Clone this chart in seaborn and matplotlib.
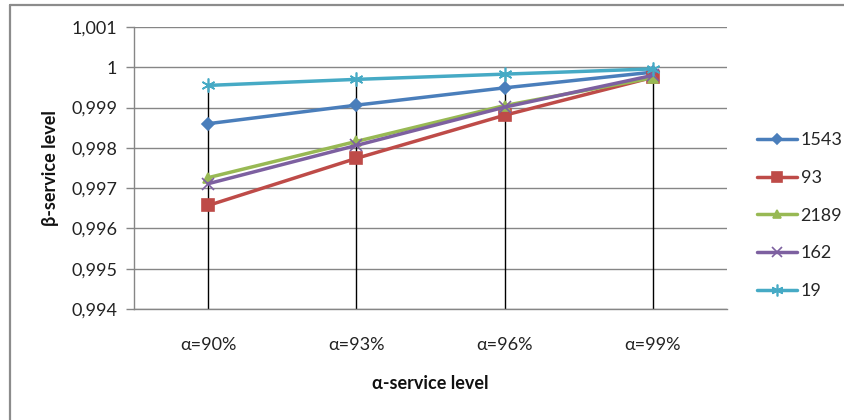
import numpy as np
import pandas as pd
import matplotlib
matplotlib.use("Agg")
import matplotlib.pyplot as plt
from matplotlib.lines import Line2D
import seaborn as sns

# α-service level categories and the β-service level reached for each item
levels = ["α=90%", "α=93%", "α=96%", "α=99%"]
series_names = ["1543", "93", "2189", "162", "19"]
beta_1543 = [0.99860, 0.99906, 0.99949, 0.99988]
beta_93 = [0.99657, 0.99774, 0.99881, 0.99975]
beta_2189 = [0.99726, 0.99816, 0.99905, 0.99974]
beta_162 = [0.99711, 0.99806, 0.99901, 0.99980]
beta_19 = [0.99955, 0.99970, 0.99983, 0.99996]
y_ticks = [0.994, 0.995, 0.996, 0.997, 0.998, 0.999, 1.000, 1.001]
y_tick_labels = ["0,994", "0,995", "0,996", "0,997", "0,998", "0,999", "1", "1,001"]

colors = {"1543": "#4A7EBB", "93": "#BE4B48", "2189": "#98B954",
          "162": "#7D60A0", "19": "#46AAC5"}
markers = {"1543": "D", "93": "s", "2189": "^", "162": "x", "19": (6, 2, 0)}
msizes = {"1543": 6, "93": 8, "2189": 7, "162": 8, "19": 10}

all_values = [beta_1543, beta_93, beta_2189, beta_162, beta_19]
df = pd.DataFrame({
    "level": levels * len(series_names),
    "beta": np.concatenate(all_values),
    "series": np.repeat(series_names, len(levels)),
})

sns.set_theme(style="white")
plt.rcParams["font.family"] = ["Lato", "DejaVu Sans"]

fig = plt.figure(figsize=(8.44, 4.20), dpi=100)
ax = fig.add_axes([134 / 844, 1 - 309 / 420, (727 - 134) / 844, (309 - 27) / 420])

# drop lines from the highest series down to the axis floor
tops = np.max(np.array(all_values), axis=0)
ax.vlines(np.arange(len(levels)), y_ticks[0], tops, color="black", lw=1.0, zorder=1)

for name, vals in zip(series_names, all_values):
    sub = df[df["series"] == name]
    sns.lineplot(data=sub, x="level", y="beta", ax=ax, color=colors[name],
                 marker=markers[name], markersize=msizes[name],
                 markeredgecolor=colors[name], markeredgewidth=1.2,
                 lw=2.5, legend=False, zorder=3)

ax.set_xlim(-0.5, len(levels) - 0.5)
ax.set_ylim(y_ticks[0], y_ticks[-1])
ax.set_yticks(y_ticks)
ax.set_yticklabels(y_tick_labels)
ax.set_xticks(range(len(levels)))
ax.set_xticklabels(levels)
ax.grid(axis="y", color="#868686", lw=1.0)
ax.set_axisbelow(True)
for side in ["top", "right"]:
    ax.spines[side].set_visible(False)
for side in ["left", "bottom"]:
    ax.spines[side].set_color("#868686")
    ax.spines[side].set_linewidth(1.0)
ax.tick_params(axis="y", length=6, width=1.0, color="#868686", labelsize=13,
               labelcolor="#222222", pad=6, left=True)
ax.tick_params(axis="x", length=0, labelsize=13, labelcolor="#222222", pad=20)

ax.set_xlabel("α-service level", fontsize=13, fontweight="bold", labelpad=16,
              color="#111111")
ax.set_ylabel("β-service level", fontsize=13, fontweight="bold", labelpad=9,
              color="#111111")

handles = [Line2D([], [], color=colors[n], lw=2.5, marker=markers[n],
                  markersize=msizes[n] * 0.85, markeredgecolor=colors[n],
                  markeredgewidth=1.2) for n in series_names]
fig.legend(handles, series_names, loc="upper left",
           bbox_to_anchor=(750 / 844, 1 - 125 / 420), frameon=False,
           fontsize=13, handlelength=2.2, handletextpad=0.2,
           labelspacing=1.2, borderaxespad=0)

# outer chart border (top and left edges)
fig.add_artist(Line2D([9.5 / 844, 9.5 / 844], [0, 1 - 4.5 / 420],
                      transform=fig.transFigure, color="#8C8C8C", lw=1.6))
fig.add_artist(Line2D([9.5 / 844, 1], [1 - 4.5 / 420, 1 - 4.5 / 420],
                      transform=fig.transFigure, color="#8C8C8C", lw=1.6))

fig.savefig("out.png", dpi=100)
